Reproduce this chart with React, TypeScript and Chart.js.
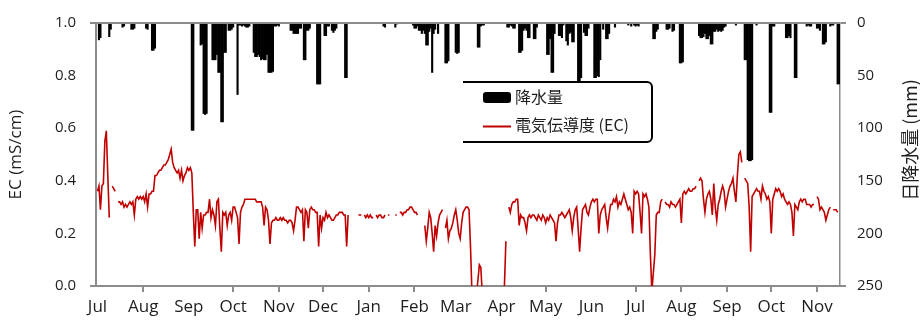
import { useEffect, useRef } from 'react';
import { Chart, registerables } from 'chart.js';

Chart.register(...registerables);

// Day index 0 = 1 July of the first year; month starts used for the date axis.
const monthStarts = [0, 31, 62, 92, 123, 153, 184, 215, 243, 274, 304, 335, 365, 396, 427, 457, 488];
const monthLabels = ['Jul', 'Aug', 'Sep', 'Oct', 'Nov', 'Dec', 'Jan', 'Feb', 'Mar', 'Apr', 'May', 'Jun', 'Jul', 'Aug', 'Sep', 'Oct', 'Nov'];
// Month starts whose tick mark is not shown on the date axis
const unmarkedMonths = [0, 2, 8, 9, 11];

// Daily electrical conductivity (mS/cm), one array per month; null = no record
const ecJul1 = [0.36, 0.38, 0.29, 0.38, 0.39, 0.55, 0.59, 0.42, 0.26, null, 0.38, 0.37, 0.36, null, 0.32, 0.32, 0.31, 0.32, 0.30, 0.31, 0.30, 0.31, 0.32, 0.31, 0.32, 0.27, 0.33, 0.34, 0.33, 0.34, 0.33];
const ecAug1 = [0.34, 0.32, 0.35, 0.30, 0.35, 0.35, 0.36, 0.36, 0.42, 0.42, 0.43, 0.44, 0.44, 0.45, 0.46, 0.46, 0.47, 0.48, 0.50, 0.52, 0.47, 0.45, 0.44, 0.43, 0.44, 0.41, 0.44, 0.40, 0.42, 0.43, 0.45];
const ecSep1 = [0.44, 0.45, 0.43, 0.28, 0.15, 0.29, 0.29, 0.18, 0.28, 0.22, 0.27, 0.27, 0.28, 0.28, 0.33, 0.26, 0.29, 0.27, 0.23, 0.32, 0.33, 0.22, 0.13, 0.28, 0.27, 0.28, 0.23, 0.27, 0.28, 0.25];
const ecOct1 = [0.30, 0.30, 0.28, 0.26, 0.16, 0.28, 0.30, 0.31, 0.33, 0.33, 0.33, 0.33, 0.33, 0.33, 0.33, 0.33, 0.32, 0.32, 0.32, 0.32, 0.30, 0.23, 0.30, 0.29, 0.25, 0.16, 0.24, 0.25, 0.25, 0.26, 0.25];
const ecNov1 = [0.25, 0.26, 0.25, 0.26, 0.25, 0.25, 0.24, 0.25, 0.25, 0.24, 0.21, 0.25, 0.30, 0.30, 0.29, 0.28, 0.29, 0.17, 0.29, 0.28, 0.22, 0.29, 0.30, 0.29, 0.29, 0.28, 0.28, 0.15, 0.27, 0.22];
const ecDec1 = [0.26, 0.25, 0.28, 0.26, 0.27, 0.26, 0.25, 0.25, 0.26, 0.27, 0.27, 0.28, 0.28, 0.28, 0.27, 0.27, 0.15, 0.27, null, null, null, null, null, null, 0.27, 0.27, 0.27, null, 0.27, 0.26, 0.27];
const ecJan2 = [0.26, 0.27, 0.26, 0.26, null, 0.27, 0.26, 0.27, 0.27, 0.26, 0.26, 0.27, null, 0.27, 0.27, null, null, null, 0.27, 0.27, null, 0.28, 0.28, 0.27, 0.28, 0.28, 0.29, 0.29, 0.30, 0.30, 0.29];
const ecFeb2 = [0.28, 0.28, 0.27, null, null, null, null, 0.23, 0.17, 0.22, 0.28, 0.26, 0.20, 0.13, 0.23, 0.19, 0.24, 0.27, 0.28, 0.29, null, 0.22, 0.25, 0.18, 0.21, 0.22, 0.24, 0.27];
const ecMar2 = [0.29, 0.25, 0.20, 0.18, 0.24, 0.28, 0.29, 0.30, 0.30, 0.29, 0.15, -0.03, -0.05, -0.05, -0.03, 0.02, 0.08, 0.07, -0.03, null, null, null, null, null, null, null, null, null, null, null, null];
const ecApr2 = [null, -0.05, 0.0, 0.17, null, 0.30, 0.28, 0.31, 0.32, 0.32, 0.33, 0.33, 0.23, 0.27, 0.26, 0.26, 0.24, 0.21, 0.26, 0.27, 0.26, 0.27, 0.27, 0.26, 0.25, 0.27, 0.26, 0.25, 0.27, 0.26];
const ecMay2 = [0.24, 0.26, 0.25, 0.27, 0.26, 0.25, 0.24, 0.17, 0.24, 0.27, 0.27, 0.28, 0.27, 0.26, 0.27, 0.28, 0.29, 0.26, 0.21, 0.26, 0.29, 0.30, 0.22, 0.13, 0.22, 0.29, 0.30, 0.31, 0.28, 0.27, 0.30];
const ecJun2 = [0.32, 0.33, 0.32, 0.33, 0.33, 0.20, 0.27, 0.29, 0.30, 0.31, 0.26, 0.22, 0.27, 0.31, 0.31, 0.33, 0.32, 0.34, 0.30, 0.32, 0.31, 0.33, 0.35, 0.33, 0.31, 0.29, 0.30, 0.28, 0.20, 0.36];
const ecJul2 = [0.35, 0.36, 0.35, 0.28, 0.20, 0.35, 0.34, 0.35, 0.33, 0.30, 0.12, -0.02, 0.05, 0.12, 0.27, 0.28, 0.28, 0.32, 0.33, null, 0.32, 0.31, 0.31, 0.30, 0.32, 0.31, 0.31, 0.30, 0.31, 0.32, 0.33];
const ecAug2 = [0.24, 0.35, 0.36, 0.35, 0.36, 0.37, 0.36, 0.36, 0.37, 0.37, 0.38, null, 0.40, 0.41, 0.40, 0.33, 0.28, 0.33, 0.35, 0.36, 0.33, 0.27, 0.39, 0.30, 0.25, 0.31, 0.33, 0.36, 0.38, 0.36, 0.30];
const ecSep2 = [0.33, 0.36, 0.38, 0.39, 0.41, 0.36, 0.32, 0.42, 0.50, 0.51, 0.47, null, 0.41, 0.40, 0.39, 0.30, 0.13, 0.34, 0.35, 0.36, 0.37, 0.36, 0.36, 0.33, 0.38, 0.36, 0.35, 0.33, 0.34, 0.32];
const ecOct2 = [0.20, 0.33, 0.35, 0.37, 0.36, 0.37, 0.36, 0.34, 0.35, 0.33, 0.32, 0.31, 0.32, 0.31, 0.28, 0.19, 0.31, 0.30, 0.29, 0.32, 0.33, 0.32, 0.33, 0.33, 0.31, 0.31, 0.31, 0.30, 0.31, 0.31, null];
const ecNov2 = [0.34, 0.33, 0.29, 0.30, 0.29, 0.28, 0.25, 0.27, 0.29, 0.30, null, 0.29, 0.29, 0.29, 0.28];

const ecMonths = [ecJul1, ecAug1, ecSep1, ecOct1, ecNov1, ecDec1, ecJan2, ecFeb2, ecMar2, ecApr2, ecMay2, ecJun2, ecJul2, ecAug2, ecSep2, ecOct2, ecNov2];

// Daily precipitation: [day index, mm]
const dailyRain: [number, number][] = [
  [1, 16], [2, 14], [8, 13], [9, 6], [17, 4], [18, 3], [23, 6], [24, 6], [25, 5],
  [33, 5], [34, 6], [37, 26], [38, 26], [39, 24],
  [64, 102], [65, 102], [70, 21], [71, 20], [72, 86], [73, 87], [74, 86], [78, 35], [79, 35], [80, 35], [81, 30], [82, 47], [83, 47], [84, 94], [85, 94], [86, 28], [87, 28], [89, 7], [90, 7], [91, 6],
  [92, 4], [95, 68], [96, 2], [97, 2], [98, 3], [99, 2], [100, 3], [101, 4], [102, 4], [103, 3], [106, 28], [107, 32], [108, 32], [109, 30], [110, 32], [111, 35], [112, 34], [113, 35], [114, 35], [115, 30], [116, 47], [117, 47], [118, 47], [119, 46], [120, 3], [121, 3], [122, 2],
  [123, 3], [131, 7], [132, 7], [133, 10], [134, 10], [135, 10], [136, 10], [137, 5], [138, 5], [140, 35], [141, 35], [142, 7], [143, 7], [144, 5], [149, 58], [150, 58], [151, 58],
  [154, 12], [155, 12], [156, 3], [157, 3], [159, 7], [160, 9], [161, 7], [162, 5], [168, 52], [169, 52],
  [194, 3], [195, 4], [202, 4], [203, 1], [214, 2],
  [215, 5], [216, 5], [217, 3], [218, 7], [219, 7], [220, 10], [221, 7], [222, 10], [223, 21], [224, 21], [225, 8], [226, 5], [227, 47], [228, 10], [229, 6], [231, 10], [236, 38], [237, 38], [238, 36],
  [243, 28], [244, 29], [245, 28], [258, 23], [259, 23], [260, 3], [261, 2], [262, 2],
  [278, 4], [279, 4], [280, 2], [281, 3], [282, 5], [283, 5], [286, 28], [287, 28], [288, 26], [289, 7], [290, 5], [291, 7], [292, 14], [293, 14], [296, 15], [297, 15], [298, 4],
  [305, 30], [306, 30], [307, 15], [308, 47], [309, 47], [310, 10], [313, 12], [314, 12], [315, 14], [316, 2], [318, 17], [319, 21], [320, 10], [321, 9], [322, 18], [323, 18], [326, 55], [327, 55], [328, 52], [330, 9], [331, 12], [332, 12], [333, 5],
  [337, 52], [338, 52], [339, 50], [340, 51], [341, 35], [343, 6], [345, 15], [346, 15], [347, 10], [351, 4], [360, 2], [362, 3], [364, 2],
  [365, 3], [366, 2], [367, 3], [377, 15], [378, 15], [379, 8], [380, 6], [386, 6], [387, 6], [388, 5], [390, 8], [391, 7], [395, 38],
  [396, 38], [397, 37], [408, 12], [409, 14], [410, 14], [411, 13], [412, 10], [413, 15], [414, 15], [415, 12], [416, 20], [417, 20], [418, 8], [419, 8], [420, 6], [421, 8], [422, 7], [423, 8], [424, 7], [425, 4], [426, 3],
  [433, 2], [439, 35], [440, 35], [441, 130], [442, 131], [443, 131], [444, 130], [447, 2], [456, 85],
  [457, 85], [458, 3], [459, 3], [467, 14], [468, 14], [469, 12], [470, 14], [473, 52], [474, 52], [481, 3], [482, 2], [483, 3], [484, 3],
  [488, 5], [489, 5], [490, 7], [492, 20], [493, 20], [494, 18], [497, 3], [498, 2], [499, 2], [502, 58], [503, 58],
];

const ecTicks = [0, 0.2, 0.4, 0.6, 0.8, 1.0];
const rainTicks = [0, 50, 100, 150, 200, 250];

const GRAY = '#8c8c8c';
const RED = '#c00000';
const TEXT = '#1e1e1e';
const FONT = "'Open Sans', 'Noto Sans CJK JP', sans-serif";
const CJK = "'Noto Sans CJK JP', 'Open Sans', sans-serif";

const endTick = (last: number) => (c: any) => (c.index === 0 || c.index === last ? GRAY : 'rgba(0,0,0,0)');

const decorations = {
  id: 'decorations',
  afterDraw(chart: any) {
    const { ctx, chartArea } = chart;
    const { left, right, top } = chartArea;
    ctx.save();
    // top frame line
    ctx.strokeStyle = GRAY;
    ctx.lineWidth = 2;
    ctx.beginPath();
    ctx.moveTo(left, top);
    ctx.lineTo(right, top);
    ctx.stroke();

    // right axis title, reading bottom to top
    ctx.save();
    ctx.translate(910, 140);
    ctx.rotate(-Math.PI / 2);
    ctx.fillStyle = TEXT;
    ctx.font = `18px ${CJK}`;
    ctx.textAlign = 'center';
    ctx.textBaseline = 'middle';
    ctx.fillText('日降水量 (mm)', 0, 0);
    ctx.restore();

    // legend box, open on its left side
    const L = 463, R = 652, T = 82, B = 142, r = 5;
    ctx.strokeStyle = '#000';
    ctx.lineWidth = 2;
    ctx.beginPath();
    ctx.moveTo(L, T);
    ctx.lineTo(R - r, T);
    ctx.arcTo(R, T, R, T + r, r);
    ctx.lineTo(R, B - r);
    ctx.arcTo(R, B, R - r, B, r);
    ctx.lineTo(L, B);
    ctx.stroke();

    ctx.fillStyle = '#000';
    ctx.beginPath();
    ctx.roundRect(483, 92, 28, 11, 3);
    ctx.fill();

    ctx.strokeStyle = RED;
    ctx.lineWidth = 2;
    ctx.beginPath();
    ctx.moveTo(483, 126.5);
    ctx.lineTo(511, 126.5);
    ctx.stroke();

    ctx.fillStyle = TEXT;
    ctx.font = `16px ${CJK}`;
    ctx.textAlign = 'left';
    ctx.textBaseline = 'middle';
    ctx.fillText('降水量', 515, 97);
    ctx.fillText('電気伝導度 (EC)', 515, 125);
    ctx.restore();
  },
};

export default function App() {
  const canvasRef = useRef<HTMLCanvasElement>(null);

  useEffect(() => {
    const ecPoints: { x: number; y: number | null }[] = [];
    ecMonths.forEach((vals, m) => {
      vals.forEach((v, i) => ecPoints.push({ x: monthStarts[m] + i, y: v }));
    });
    const rainPoints = dailyRain.map(([d, mm]) => ({ x: d, y: mm }));

    const chart = new Chart(canvasRef.current as HTMLCanvasElement, {
      type: 'bar',
      data: {
        datasets: [
          {
            type: 'line',
            label: '電気伝導度 (EC)',
            data: ecPoints as any,
            yAxisID: 'y',
            borderColor: RED,
            borderWidth: 1.6,
            pointRadius: 0,
            spanGaps: false,
            tension: 0,
            order: 0,
          },
          {
            type: 'bar',
            label: '降水量',
            data: rainPoints as any,
            yAxisID: 'y2',
            backgroundColor: '#000',
            barPercentage: 1,
            categoryPercentage: 1,
            order: 1,
          },
        ],
      },
      options: {
        animation: false,
        responsive: false,
        events: [],
        layout: { padding: { top: 17, left: 0, right: 0, bottom: 0 } },
        font: { family: FONT },
        plugins: { legend: { display: false }, tooltip: { enabled: false } },
        scales: {
          x: {
            type: 'linear',
            min: -1,
            max: 503.6,
            offset: false,
            afterBuildTicks: (s: any) => {
              s.ticks = monthStarts.map((v) => ({ value: v }));
            },
            afterFit: (s: any) => {
              s.height = 38;
            },
            ticks: {
              autoSkip: false,
              maxRotation: 0,
              minRotation: 0,
              padding: 5,
              color: TEXT,
              font: { family: FONT, size: 17 },
              callback: (_v: any, i: number) => monthLabels[i],
            },
            grid: {
              offset: false,
              drawOnChartArea: false,
              tickLength: 6,
              lineWidth: 2,
              color: (c: any) => (unmarkedMonths.includes(c.index) ? 'rgba(0,0,0,0)' : GRAY),
            },
            border: { color: GRAY, width: 2 },
          },
          y: {
            type: 'linear',
            position: 'left',
            min: 0,
            max: 1,
            afterBuildTicks: (s: any) => {
              s.ticks = ecTicks.map((v) => ({ value: v }));
            },
            afterFit: (s: any) => {
              s.width = 96;
            },
            ticks: {
              padding: 14,
              color: TEXT,
              font: { family: FONT, size: 15 },
              callback: (v: any) => Number(v).toFixed(1),
            },
            grid: { drawOnChartArea: false, tickLength: 6, lineWidth: 2, color: endTick(ecTicks.length - 1) },
            border: { color: GRAY, width: 2 },
            title: {
              display: true,
              text: 'EC (mS/cm)',
              color: TEXT,
              font: { family: FONT, size: 17 },
              padding: { top: 6, bottom: 0 },
            },
          },
          y2: {
            type: 'linear',
            position: 'right',
            min: 0,
            max: 250,
            reverse: true,
            afterBuildTicks: (s: any) => {
              s.ticks = rainTicks.map((v) => ({ value: v }));
            },
            afterFit: (s: any) => {
              s.width = 80;
            },
            ticks: {
              padding: 11,
              color: TEXT,
              font: { family: FONT, size: 15 },
            },
            grid: { drawOnChartArea: false, tickLength: 6, lineWidth: 2, color: endTick(rainTicks.length - 1) },
            border: { color: GRAY, width: 1.5 },
          },
        },
      } as any,
      plugins: [decorations],
    });

    return () => chart.destroy();
  }, []);

  return (
    <div style={{ position: 'fixed', left: 0, top: 0, width: 920, height: 324, background: '#fff' }}>
      <canvas ref={canvasRef} width={920} height={324} style={{ display: 'block' }} />
    </div>
  );
}
